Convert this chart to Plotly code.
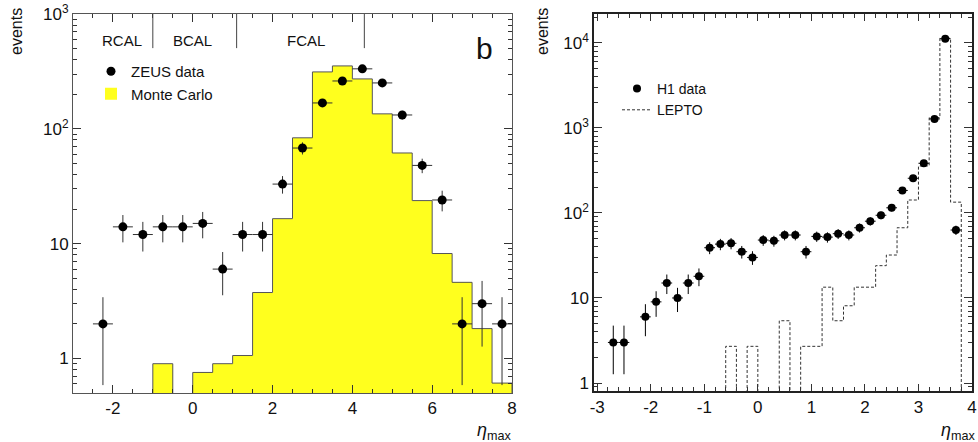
import math
import plotly.graph_objects as go

# ---------------- data: left panel (ZEUS) ----------------
zeus_eta = [-2.25, -1.75, -1.25, -0.75, -0.25, 0.25, 0.75, 1.25, 1.75, 2.25, 2.75,
            3.25, 3.75, 4.25, 4.75, 5.25, 5.75, 6.25, 6.75, 7.25, 7.75]
zeus_events = [2, 14, 12, 14, 14, 15, 6, 12, 12, 33, 68,
               168, 261, 333, 251, 132, 48, 24, 2, 3, 2]

mc_low_edges = [-1.0, -0.5, 0.0, 0.5, 1.0, 1.5, 2.0, 2.5, 3.0, 3.5, 4.0,
                4.5, 5.0, 5.5, 6.0, 6.5, 7.0, 7.5]
mc_events = [0.9, 0, 0.755, 0.9, 1.06, 3.75, 16.5, 83.5, 313, 353, 272,
             135, 61.6, 23.7, 8.2, 4.6, 1.82, 0.61]
mc_bin_width = 0.5

cal_edges = [-1.0, 1.1, 4.3]
cal_labels = ["RCAL", "BCAL", "FCAL"]
cal_label_pos = [-1.78, 0.0, 2.83]

left_x_ticks = [-2, 0, 2, 4, 6, 8]
left_y_ticks = [1, 10, 100, 1000]
left_y_ticktext = ["1", "10", "10<sup>2</sup>", "10<sup>3</sup>"]

# ---------------- data: right panel (H1) ----------------
h1_eta = [-2.7, -2.5, -2.1, -1.9, -1.7, -1.5, -1.3, -1.1, -0.9, -0.7, -0.5, -0.3,
          -0.1, 0.1, 0.3, 0.5, 0.7, 0.9, 1.1, 1.3, 1.5, 1.7, 1.9, 2.1, 2.3, 2.5,
          2.7, 2.9, 3.1, 3.3, 3.5, 3.7]
h1_events = [3, 3, 6, 9, 15, 10, 15, 18, 39, 43, 44, 35,
             30, 48, 47, 55, 55, 35, 53, 52, 57, 55, 67, 80, 94, 115,
             184, 256, 384, 1277, 11200, 63]

lepto_low_edges = [-0.6, -0.4, -0.2, 0.0, 0.2, 0.4, 0.6, 0.8, 1.0, 1.2, 1.4,
                   1.6, 1.8, 2.0, 2.2, 2.4, 2.6, 2.8, 3.0, 3.2, 3.4, 3.6]
lepto_events = [2.7, 0, 2.7, 0, 0, 5.4, 0, 2.7, 2.7, 13.4, 5.4,
                8.1, 13.4, 13.4, 24, 32, 67, 142, 357, 1322, 11350, 134]
lepto_bin_width = 0.2

right_x_ticks = [-3, -2, -1, 0, 1, 2, 3, 4]
right_y_ticks = [1, 10, 100, 1000, 10000]
right_y_ticktext = ["1", "10", "10<sup>2</sup>", "10<sup>3</sup>", "10<sup>4</sup>"]

FONT = "Liberation Sans, Arial, Helvetica, sans-serif"
TINY = 1e-3


def step_outline(low_edges, values, width):
    xs = [low_edges[0]] + list(low_edges) + [low_edges[-1] + width]
    ys = [TINY] + [v if v > 0 else TINY for v in values] + [TINY]
    return xs, ys


fig = go.Figure()

# Monte Carlo filled histogram
fig.add_trace(go.Bar(
    x=[e + mc_bin_width / 2 for e in mc_low_edges],
    y=[v if v > 0 else None for v in mc_events],
    width=mc_bin_width,
    marker=dict(color="#ffff1e", line=dict(width=0)),
    name="Monte Carlo", legend="legend", legendgroup="mc",
    xaxis="x", yaxis="y",
))
mx, my = step_outline(mc_low_edges, mc_events, mc_bin_width)
fig.add_trace(go.Scatter(
    x=mx, y=my, mode="lines", line=dict(color="#555555", width=1, shape="hv"),
    showlegend=False, xaxis="x", yaxis="y", hoverinfo="skip",
))
fig.add_trace(go.Scatter(
    x=zeus_eta, y=zeus_events, mode="markers",
    marker=dict(color="black", size=9),
    error_x=dict(type="constant", value=0.25, width=0, color="#333333", thickness=1),
    error_y=dict(type="data", array=[math.sqrt(v) for v in zeus_events], width=0,
                 color="#333333", thickness=1),
    name="ZEUS data", legend="legend", legendgroup="zeus",
    xaxis="x", yaxis="y",
))

# LEPTO dashed histogram
lx, ly = step_outline(lepto_low_edges, lepto_events, lepto_bin_width)
fig.add_trace(go.Scatter(
    x=lx, y=ly, mode="lines",
    line=dict(color="#333333", width=1, shape="hv", dash="3px,2px"),
    name="LEPTO", legend="legend2", xaxis="x2", yaxis="y2",
))
fig.add_trace(go.Scatter(
    x=h1_eta, y=h1_events, mode="markers",
    marker=dict(color="black", size=8),
    error_x=dict(type="constant", value=0.1, width=0, color="black", thickness=1),
    error_y=dict(type="data", array=[math.sqrt(v) for v in h1_events], width=0,
                 color="black", thickness=1),
    name="H1 data", legend="legend2", xaxis="x2", yaxis="y2",
))

minor_left = [m * 10 ** d for d in range(-1, 3) for m in range(2, 10)]
minor_right = [m * 10 ** d for d in range(-1, 5) for m in range(2, 10)]

W, H = 978, 442
common_axis = dict(showline=True, mirror="allticks", showgrid=False, zeroline=False,
                   ticks="inside", tickcolor="#333333", automargin=False,
                   tickfont=dict(family=FONT, size=17, color="#111111"))

fig.update_layout(
    width=W, height=H,
    margin=dict(l=0, r=0, t=0, b=0, autoexpand=False),
    paper_bgcolor="white", plot_bgcolor="white",
    bargap=0,
    font=dict(family=FONT, color="#111111"),
    xaxis=dict(domain=[73 / W, 512 / W], anchor="y", range=[-3, 8],
               tickmode="array", tickvals=left_x_ticks,
               ticktext=[str(t) for t in left_x_ticks],
               ticklen=8, linecolor="#555555", linewidth=1,
               minor=dict(dtick=0.5, tick0=0, ticklen=4, ticks="inside", tickcolor="#333333"),
               **common_axis),
    yaxis=dict(domain=[1 - 393 / H, 1 - 14 / H], anchor="x", type="log",
               range=[math.log10(0.5), 3],
               tickmode="array", tickvals=left_y_ticks, ticktext=left_y_ticktext,
               ticklen=8, linecolor="#555555", linewidth=1,
               minor=dict(tickmode="array", tickvals=minor_left, ticklen=4,
                          ticks="inside", tickcolor="#333333"),
               **common_axis),
    xaxis2=dict(domain=[594 / W, 972 / W], anchor="y2", range=[-3.06, 4.0],
                tickmode="array", tickvals=right_x_ticks,
                ticktext=[str(t) for t in right_x_ticks],
                ticklen=7, linecolor="#222222", linewidth=1.5,
                minor=dict(dtick=0.2, tick0=0, ticklen=4, ticks="inside", tickcolor="#333333"),
                **common_axis),
    yaxis2=dict(domain=[1 - 391 / H, 1 - 14 / H], anchor="x2", type="log",
                range=[-0.094, 4.34],
                tickmode="array", tickvals=right_y_ticks, ticktext=right_y_ticktext,
                ticklen=8, linecolor="#222222", linewidth=1.5,
                minor=dict(tickmode="array", tickvals=minor_right, ticklen=4,
                           ticks="inside", tickcolor="#333333"),
                **common_axis),
    legend=dict(x=91 / W, y=1 - 55 / H, xanchor="left", yanchor="top",
                bgcolor="rgba(0,0,0,0)", font=dict(family=FONT, size=15),
                tracegroupgap=8, traceorder="reversed"),
    legend2=dict(x=617 / W, y=1 - 73 / H, xanchor="left", yanchor="top",
                 bgcolor="rgba(0,0,0,0)", font=dict(family=FONT, size=14),
                 traceorder="reversed"),
    showlegend=True,
)

# calorimeter region markers
for e in cal_edges:
    fig.add_shape(type="line", xref="x", yref="y domain", x0=e, x1=e, y0=1, y1=0.91,
                  line=dict(color="#444444", width=1))
for lab, pos in zip(cal_labels, cal_label_pos):
    fig.add_annotation(xref="x", yref="y domain", x=pos, y=0.931, text=lab,
                       xanchor="center", yanchor="middle",
                       showarrow=False, font=dict(family=FONT, size=15, color="#111111"))

fig.add_annotation(xref="x", yref="y domain", x=7.3, y=0.91, text="b", showarrow=False,
                   xanchor="center", yanchor="middle",
                   font=dict(family=FONT, size=30, color="#111111"))

# axis titles
for xp in (17, 543):
    fig.add_annotation(xref="paper", yref="paper", x=xp / W, y=1 - 32 / H, text="events",
                       textangle=-90, showarrow=False, xanchor="center", yanchor="middle",
                       font=dict(family=FONT, size=16, color="#111111"))
for xp in (513, 977):
    fig.add_annotation(xref="paper", yref="paper", x=xp / W, y=1 - 431 / H,
                       xanchor="right", yanchor="middle",
                       text="<i>η</i><sub>max</sub>", showarrow=False,
                       font=dict(family=FONT, size=18, color="#111111"))

fig.write_html("out.html")
